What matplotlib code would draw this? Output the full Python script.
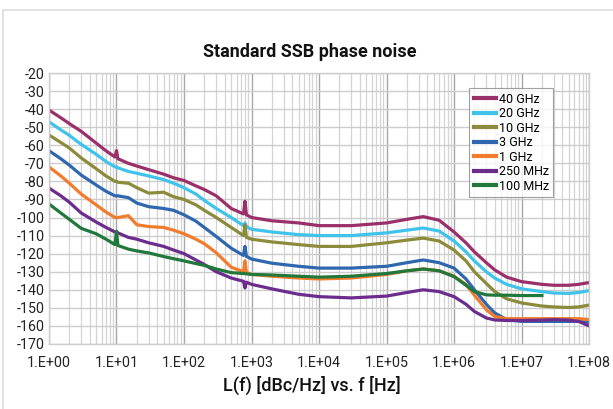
import numpy as np
import matplotlib
matplotlib.use("Agg")
import matplotlib.pyplot as plt
from matplotlib.lines import Line2D
from matplotlib.ticker import LogLocator, FixedLocator, NullFormatter

plt.rcParams['font.family'] = ['Roboto', 'DejaVu Sans']

freq = [1, 1.5, 2, 3, 5, 7, 9.5, 10, 10.5, 15, 20, 30, 50, 70, 100, 150, 200, 300,
        500, 760, 800, 840, 1e3, 2e3, 5e3, 1e4, 3e4, 1e5, 2e5, 3.5e5, 6e5, 1e6,
        1.5e6, 2e6, 3e6, 4e6, 6e6, 1e7, 2e7, 3e7, 5e7, 7e7, 1e8]

pn_40ghz = [-40.5, -44.8, -48, -52.3, -58.8, -63.1, -66.5, -63, -67.5, -70, -71.5, -73.5,
            -76, -78, -79.5, -82.5, -84.5, -88, -95, -98, -91, -98.5, -100, -101.8, -103,
            -104.5, -104.5, -103, -101, -99.5, -101.5, -108, -114, -119, -125, -129, -133,
            -135.5, -137, -137.5, -137.5, -137, -136]
pn_20ghz = [-47, -51.5, -54.5, -59.5, -65, -69, -72, -72, -72.5, -74.5, -75.5, -77,
            -79, -81, -83.5, -87, -90.5, -95, -100, -104.5, -103, -105, -106.5, -108,
            -109.5, -110, -110, -108.5, -107, -105.8, -107.5, -113, -119, -124, -130,
            -133.5, -137, -139.5, -141, -141.8, -142, -141.5, -140.5]
pn_10ghz = [-54.3, -58.5, -61.5, -67, -73, -77, -80, -80, -80.5, -81, -83.5, -86.5,
            -86, -88.5, -90, -93, -96, -100, -105.5, -110, -104, -111, -112, -113.5,
            -115, -116, -116, -114, -112.5, -111.4, -113, -118, -124, -130, -136.5,
            -141, -145, -147.3, -149, -149.5, -149.8, -149.5, -148.5]
pn_3ghz = [-63, -67.5, -71, -76.5, -82, -85.5, -88, -88, -88, -89, -92, -94,
           -95, -96, -98.5, -102, -105.5, -110.5, -117, -121, -116, -121.5, -123, -125.3,
           -127, -128, -128, -127, -125, -123.5, -125, -128, -134, -140, -148,
           -152.8, -156.5, -157.5, -157.5, -157.5, -157.5, -157.5, -158]
pn_1ghz = [-72, -77, -81, -87, -93, -97, -100, -100, -100, -99, -104, -105,
           -105.5, -107, -109, -112, -114.5, -119.5, -127.5, -130, -124, -130.5, -131.5,
           -132.5, -133.5, -134, -133.5, -131.5, -129.5, -128.5, -129.5, -132.5, -137,
           -143, -151, -154.8, -156, -156, -156, -156, -156, -156, -156.5]
pn_250mhz = [-83.7, -88, -91.5, -97.5, -102.5, -105.5, -108, -108, -108.5, -111, -112,
             -114, -116, -118, -120, -123.5, -126, -130, -133.5, -135.3, -139, -135.8,
             -137, -139.5, -142.5, -143.8, -144.5, -143.5, -141.5, -140, -141, -143.8,
             -148, -152, -155.6, -156.7, -157, -157, -156.8, -156.5, -156.8, -157.5, -160]
pn_100mhz = [-92.5, -97.5, -101, -106, -109, -112, -115, -107.6, -115.5, -117.5, -118.5,
             -119.6, -121.6, -122.8, -124, -125.5, -126.5, -128.5, -130.5, -131, -131,
             -131.2, -131.5, -131.8, -132.5, -133, -132.5, -131, -129.5, -128.5, -129.5,
             -132.7, -137.5, -141, -142.8, -143, -143, -143.2, -143.2,
             np.nan, np.nan, np.nan, np.nan]

labels = ["40 GHz", "20 GHz", "10 GHz", "3 GHz", "1 GHz", "250 MHz", "100 MHz"]
colors = ["#9a2f6a", "#3fc3ea", "#8b8b3b", "#2e67ad", "#f07c2c", "#6c2c8e", "#20783b"]
series = [pn_40ghz, pn_20ghz, pn_10ghz, pn_3ghz, pn_1ghz, pn_250mhz, pn_100mhz]

xtick_vals = [1e0, 1e1, 1e2, 1e3, 1e4, 1e5, 1e6, 1e7, 1e8]
xtick_labels = ["1.E+00", "1.E+01", "1.E+02", "1.E+03", "1.E+04", "1.E+05",
                "1.E+06", "1.E+07", "1.E+08"]
ytick_vals = list(range(-170, -19, 10))

fig = plt.figure(figsize=(6.13, 4.09), dpi=100)
ax = fig.add_axes([0.0799, 0.159, 0.8811, 0.6625])

ax.set_xscale('log')
ax.set_xlim(1, 1e8)
ax.set_ylim(-170, -20)

ax.xaxis.set_major_locator(FixedLocator(xtick_vals))
ax.set_xticklabels(xtick_labels)
ax.xaxis.set_minor_locator(LogLocator(base=10, subs=np.arange(2, 10), numticks=100))
ax.xaxis.set_minor_formatter(NullFormatter())
ax.set_yticks(ytick_vals)
ax.set_yticklabels([str(v) for v in ytick_vals])

ax.grid(True, which='major', axis='x', color='#a8a8a8', lw=1.0)
ax.grid(True, which='minor', axis='x', color='#d4d4d4', lw=0.9)
ax.grid(True, which='major', axis='y', color='#cccccc', lw=1.0)
ax.set_axisbelow(True)

for s in ax.spines.values():
    s.set_color('#cccccc')
    s.set_linewidth(1.0)

ax.tick_params(axis='both', which='both', length=0, labelsize=10.3, colors='#222222')
ax.tick_params(axis='x', pad=9)
ax.tick_params(axis='y', pad=3)

for vals, lab, col in zip(series, labels, colors):
    ax.plot(freq, vals, color=col, lw=2.3, label=lab, solid_joinstyle='round')

leg = ax.legend(loc='upper right', bbox_to_anchor=(0.9335, 0.943), fontsize=9,
                frameon=True, fancybox=False, edgecolor='#888888',
                handlelength=1.8, handletextpad=0.2, labelspacing=0.12,
                borderpad=0.35, borderaxespad=0.0)
leg.get_frame().set_linewidth(0.8)
for h in leg.get_lines():
    h.set_linewidth(3.0)

fig.text(0.506, 0.873, "Standard SSB phase noise", ha='center', va='center',
         fontsize=13, fontweight='bold', color='#111111')
fig.text(0.508, 0.058, "L(f) [dBc/Hz] vs. f [Hz]", ha='center', va='center',
         fontsize=13, fontweight='medium', color='#111111')

# light frame lines of the figure
fig.add_artist(Line2D([3/613, 1], [1 - 10/409, 1 - 10/409], transform=fig.transFigure,
                      color='#dddddd', lw=1.2))
fig.add_artist(Line2D([3/613, 3/613], [0, 1 - 10/409], transform=fig.transFigure,
                      color='#dddddd', lw=1.2))

fig.savefig("out.png", dpi=100)
